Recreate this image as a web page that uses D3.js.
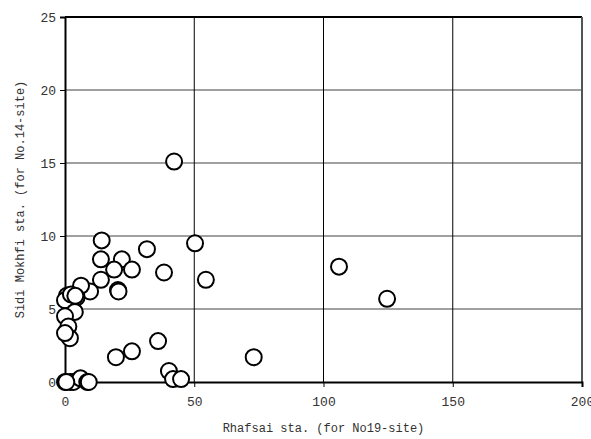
<!DOCTYPE html>
<html>
<head>
<meta charset="utf-8">
<script src="https://cdn.jsdelivr.net/npm/d3@7"></script>
<style>
  body { margin: 0; background: #fff; }
  text { font-family: "Liberation Mono", "DejaVu Sans Mono", monospace; }
</style>
</head>
<body>
<div id="chart"></div>
<script>
// Rhafsai sta. (x) vs Sidi Mokhfi sta. (y)
const xValues = [42.2, 14.2, 50.3, 31.7, 22.0, 13.9, 106, 19.0, 25.9, 38.3, 13.9, 54.5, 20.5, 20.7, 9.7, 6.2,
  124.6, 4.5, 0.7, 0, 2.3, 4.0, 3.8, 0, 1.3, 1.9, 0, 36.0, 25.9, 19.7, 73.0, 40.2, 41.8, 44.9,
  0, 2.0, 3.2, 6.0, 8.6, 9.2, 0.5];
const yValues = [15.1, 9.7, 9.5, 9.1, 8.4, 8.4, 7.9, 7.7, 7.7, 7.5, 7.0, 7.0, 6.3, 6.2, 6.2, 6.6,
  5.7, 5.8, 5.9, 5.6, 6.0, 5.9, 4.8, 4.5, 3.8, 3.0, 3.35, 2.8, 2.1, 1.7, 1.7, 0.75, 0.2, 0.2,
  0, 0, 0, 0.25, 0, 0, 0];
const xTicks = [0, 50, 100, 150, 200];
const yTicks = [0, 5, 10, 15, 20, 25];

const width = 591, height = 439;
const margin = { top: 17, right: 9, bottom: 57, left: 65 };
const w = width - margin.left - margin.right,
      h = height - margin.top - margin.bottom;

const svg = d3.select("#chart")
    .append("svg")
    .attr("width", width)
    .attr("height", height);

const g = svg.append("g")
    .attr("transform", `translate(${margin.left},${margin.top})`);

const x = d3.scaleLinear().domain([0, 200]).range([0, w]);
const y = d3.scaleLinear().domain([0, 25]).range([h, 0]);

// horizontal gridlines (gray)
g.selectAll(".hgrid")
    .data(yTicks.filter(d => d > 0 && d < 25))
    .enter()
    .append("line")
    .attr("x1", 0).attr("x2", w)
    .attr("y1", d => y(d)).attr("y2", d => y(d))
    .attr("stroke", "#808080")
    .attr("stroke-width", 1.5);

// vertical gridlines (black)
g.selectAll(".vgrid")
    .data(xTicks.filter(d => d > 0 && d < 200))
    .enter()
    .append("line")
    .attr("x1", d => x(d)).attr("x2", d => x(d))
    .attr("y1", 0).attr("y2", h)
    .attr("stroke", "#000")
    .attr("stroke-width", 1);

// frame
g.append("line").attr("x1", 0).attr("x2", w).attr("y1", 0).attr("y2", 0)
    .attr("stroke", "#000").attr("stroke-width", 2);
g.append("line").attr("x1", w).attr("x2", w).attr("y1", 0).attr("y2", h)
    .attr("stroke", "#555").attr("stroke-width", 2);

// axes
const xAxis = g.append("g")
    .attr("transform", `translate(0,${h})`)
    .call(d3.axisBottom(x).tickValues(xTicks).tickSize(5).tickPadding(10));
const yAxis = g.append("g")
    .call(d3.axisLeft(y).tickValues(yTicks).tickSize(5).tickPadding(4));

[xAxis, yAxis].forEach(a => {
    a.select(".domain").attr("stroke", "#000").attr("stroke-width", 2);
    a.selectAll(".tick line").attr("stroke", "#000");
    a.selectAll(".tick text")
        .style("font-family", "'Liberation Mono', monospace")
        .style("font-size", "13px")
        .attr("fill", "#333");
});

// points
g.selectAll("circle")
    .data(xValues.map((v, i) => [v, yValues[i]]))
    .enter()
    .append("circle")
    .attr("cx", d => x(d[0]))
    .attr("cy", d => y(d[1]))
    .attr("r", 8)
    .attr("fill", "#fff")
    .attr("stroke", "#000")
    .attr("stroke-width", 2);

// axis titles
svg.append("text")
    .attr("x", margin.left + w / 2)
    .attr("y", 432)
    .attr("text-anchor", "middle")
    .style("font-size", "12px")
    .attr("fill", "#333")
    .text("Rhafsai sta. (for No19-site)");

svg.append("text")
    .attr("transform", "rotate(-90)")
    .attr("x", -(margin.top + h / 2))
    .attr("y", 24)
    .attr("text-anchor", "middle")
    .style("font-size", "12px")
    .attr("fill", "#333")
    .text("Sidi Mokhfi sta. (for No.14-site)");
</script>
</body>
</html>
